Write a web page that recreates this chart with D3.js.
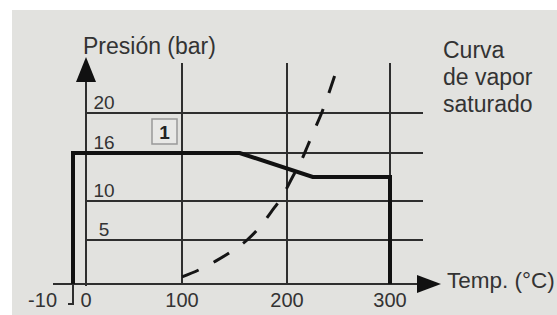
<!DOCTYPE html>
<html>
<head>
<meta charset="utf-8">
<script src="https://cdn.jsdelivr.net/npm/d3@7.9.0/dist/d3.min.js"></script>
<style>
  body { margin: 0; background: #fff; }
  svg { display: block; font-family: "Liberation Sans", Arial, sans-serif; }
</style>
</head>
<body>
<svg id="chart" width="557" height="315"></svg>
<script>
// axis ticks
const tempTicks = [-10, 0, 100, 200, 300];
const gridTemps = [100, 200, 300];
const presTicks = [5, 10, 16, 20];

// operating limit (thick line)
const limitT = [-10, -10, 155, 225, 300, 300];
const limitP = [0, 16, 16, 13, 13, 0];

// saturated vapour curve (dashed)
const vaporT = [100, 116, 132, 147, 162, 175, 185, 196, 205, 213, 220, 227, 234, 242, 250];
const vaporP = [0.8, 1.6, 2.6, 3.7, 5, 6.8, 8.6, 10.7, 12.9, 14.8, 16.7, 18.4, 20.1, 22.4, 24.9];

const svg = d3.select('#chart');
const ink = '#2e2e2e';
const textCol = '#333';

// panel background
svg.append('rect').attr('x', 12).attr('y', 10).attr('width', 545).attr('height', 305)
  .attr('fill', '#e2e2df');

// scales (the drawing is schematic, so piecewise)
const x = d3.scaleLinear().domain([-10, 0, 100, 200, 300]).range([73, 86, 182, 287, 390]);
const y = d3.scaleLinear().domain([0, 5, 10, 16, 20]).range([284, 240, 201, 153, 113]);

// horizontal grid
svg.selectAll('.hgrid').data(presTicks).join('line')
  .attr('x1', x(0)).attr('x2', 423)
  .attr('y1', d => y(d)).attr('y2', d => y(d))
  .attr('stroke', ink).attr('stroke-width', 2);

// vertical grid
svg.selectAll('.vgrid').data(gridTemps).join('line')
  .attr('x1', d => x(d)).attr('x2', d => x(d))
  .attr('y1', 63).attr('y2', y(0))
  .attr('stroke', ink).attr('stroke-width', 2);

// y axis + arrow
svg.append('line').attr('x1', x(0)).attr('x2', x(0)).attr('y1', 78).attr('y2', y(0) + 2)
  .attr('stroke', ink).attr('stroke-width', 2);
svg.append('path').attr('d', `M${x(0)},57 L${x(0) - 10},82 L${x(0) + 10},82 Z`).attr('fill', '#111');

// x axis + arrow
svg.append('line').attr('x1', 53).attr('x2', 425).attr('y1', y(0)).attr('y2', y(0))
  .attr('stroke', ink).attr('stroke-width', 2);
svg.append('path').attr('d', `M441,${y(0)} L417,${y(0) - 9} L417,${y(0) + 9} Z`).attr('fill', '#111');

// small bracket under -10
svg.append('path')
  .attr('d', `M${x(-10)},${y(0)} L${x(-10)},${y(0) + 20} L${x(-10) - 5},${y(0) + 20}`)
  .attr('fill', 'none').attr('stroke', ink).attr('stroke-width', 2);

// dashed vapour curve
const vaporLine = d3.line().x(d => x(d[0])).y(d => y(d[1])).curve(d3.curveMonotoneX);
svg.append('path').datum(d3.zip(vaporT, vaporP))
  .attr('d', vaporLine)
  .attr('fill', 'none').attr('stroke', '#151515').attr('stroke-width', 3)
  .attr('stroke-dasharray', '18,17');

// thick limit line
const limitLine = d3.line().x(d => x(d[0])).y(d => y(d[1]));
svg.append('path').datum(d3.zip(limitT, limitP))
  .attr('d', limitLine)
  .attr('fill', 'none').attr('stroke', '#111').attr('stroke-width', 4)
  .attr('stroke-linejoin', 'miter');

// pressure tick labels
svg.selectAll('.plab').data(presTicks).join('text')
  .attr('x', 104).attr('y', d => y(d) - 4)
  .attr('text-anchor', 'middle').attr('font-size', 19).attr('fill', textCol)
  .text(d => d);

// temperature tick labels
svg.selectAll('.tlab').data(tempTicks).join('text')
  .attr('x', d => d === -10 ? 57 : x(d))
  .attr('y', 307)
  .attr('text-anchor', d => d === -10 ? 'end' : 'middle')
  .attr('font-size', 20).attr('fill', textCol)
  .text(d => d);

// box "1"
svg.append('rect').attr('x', 152).attr('y', 119).attr('width', 25).attr('height', 25)
  .attr('fill', '#e8e8e6').attr('stroke', '#999').attr('stroke-width', 1.5);
svg.append('text').attr('x', 164.5).attr('y', 139).attr('text-anchor', 'middle')
  .attr('font-size', 19).attr('font-weight', 'bold').attr('fill', '#222').text('1');

// axis titles
svg.append('text').attr('x', 83).attr('y', 54).attr('font-size', 23).attr('fill', textCol)
  .text('Presión (bar)');
svg.append('text').attr('x', 447).attr('y', 288).attr('font-size', 22.5).attr('fill', textCol)
  .text('Temp. (°C)');

// curve label
const note = ['Curva', 'de vapor', 'saturado'];
svg.append('text').attr('x', 443).attr('y', 58).attr('font-size', 23).attr('fill', textCol)
  .selectAll('tspan').data(note).join('tspan')
  .attr('x', 443).attr('dy', (d, i) => i === 0 ? 0 : 27)
  .text(d => d);
</script>
</body>
</html>
